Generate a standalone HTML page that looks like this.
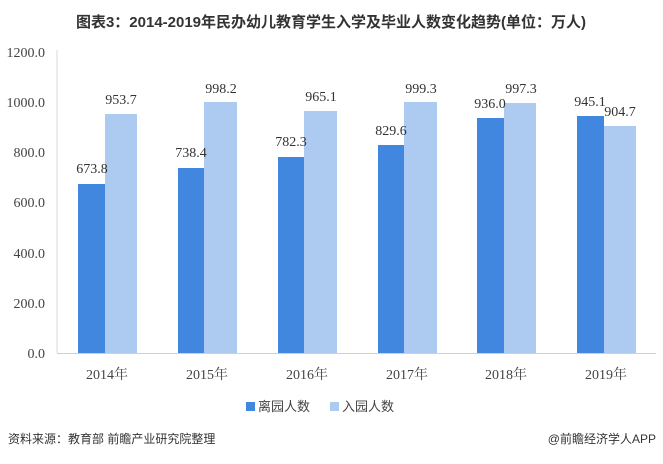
<!DOCTYPE html>
<html><head><meta charset="utf-8"><style>
body{margin:0;width:663px;height:459px;background:#fff;overflow:hidden;font-family:"Liberation Serif","Noto Serif CJK SC",serif;}
</style></head><body>
<svg width="663" height="459" viewBox="0 0 663 459" xmlns="http://www.w3.org/2000/svg">
<text x="331" y="27" text-anchor="middle" font-family="Liberation Sans, Noto Sans CJK SC, sans-serif" font-weight="bold" font-size="15" fill="#333">图表3：2014-2019年民办幼儿教育学生入学及毕业人数变化趋势(单位：万人)</text>
<g font-size="14" fill="#444" text-anchor="end" font-family="Liberation Serif, serif">
<text x="45" y="358">0.0</text><text x="45" y="308">200.0</text><text x="45" y="258">400.0</text>
<text x="45" y="207">600.0</text><text x="45" y="157">800.0</text><text x="45" y="107">1000.0</text><text x="45" y="57">1200.0</text>
</g>
<line x1="57" y1="50" x2="57" y2="353" stroke="#d9d9d9"/>
<line x1="57" y1="353.5" x2="656" y2="353.5" stroke="#d0d0d0"/>
<g id="bars"></g>
<g font-size="14" fill="#333" font-family="Liberation Serif, serif">
<rect x="78" y="184" width="27" height="169" fill="#4186df"/><rect x="105" y="114" width="32" height="239" fill="#adcbf1"/>
<rect x="178" y="168" width="26" height="185" fill="#4186df"/><rect x="204" y="102" width="33" height="251" fill="#adcbf1"/>
<rect x="278" y="157" width="26" height="196" fill="#4186df"/><rect x="304" y="111" width="33" height="242" fill="#adcbf1"/>
<rect x="378" y="145" width="26" height="208" fill="#4186df"/><rect x="404" y="102" width="33" height="251" fill="#adcbf1"/>
<rect x="477" y="118" width="27" height="235" fill="#4186df"/><rect x="504" y="103" width="32" height="250" fill="#adcbf1"/>
<rect x="577" y="116" width="27" height="237" fill="#4186df"/><rect x="604" y="126" width="32" height="227" fill="#adcbf1"/>
<text x="92" y="173" text-anchor="middle">673.8</text><text x="121" y="104" text-anchor="middle">953.7</text>
<text x="191" y="157" text-anchor="middle">738.4</text><text x="221" y="93" text-anchor="middle">998.2</text>
<text x="291" y="146" text-anchor="middle">782.3</text><text x="321" y="101" text-anchor="middle">965.1</text>
<text x="391" y="135" text-anchor="middle">829.6</text><text x="421" y="93" text-anchor="middle">999.3</text>
<text x="490" y="108" text-anchor="middle">936.0</text><text x="521" y="93" text-anchor="middle">997.3</text>
<text x="590" y="106" text-anchor="middle">945.1</text><text x="620" y="116" text-anchor="middle">904.7</text>
</g>
<g font-size="14" fill="#444" text-anchor="middle" font-family="Liberation Serif, Noto Serif CJK SC, serif">
<text x="107" y="379">2014年</text><text x="207" y="379">2015年</text><text x="307" y="379">2016年</text>
<text x="407" y="379">2017年</text><text x="506" y="379">2018年</text><text x="606" y="379">2019年</text>
</g>
<rect x="246" y="402" width="9" height="9" fill="#4186df"/>
<text x="258" y="411" font-size="13" fill="#444" font-family="Liberation Sans, Noto Sans CJK SC, sans-serif">离园人数</text>
<rect x="330" y="402" width="9" height="9" fill="#adcbf1"/>
<text x="342" y="411" font-size="13" fill="#444" font-family="Liberation Sans, Noto Sans CJK SC, sans-serif">入园人数</text>
<text x="8" y="443" font-size="12" fill="#333" font-family="Liberation Sans, Noto Sans CJK SC, sans-serif">资料来源：教育部 前瞻产业研究院整理</text>
<text x="656" y="443" text-anchor="end" font-size="12" fill="#333" font-family="Liberation Sans, Noto Sans CJK SC, sans-serif">@前瞻经济学人APP</text>
</svg>
</body></html>
